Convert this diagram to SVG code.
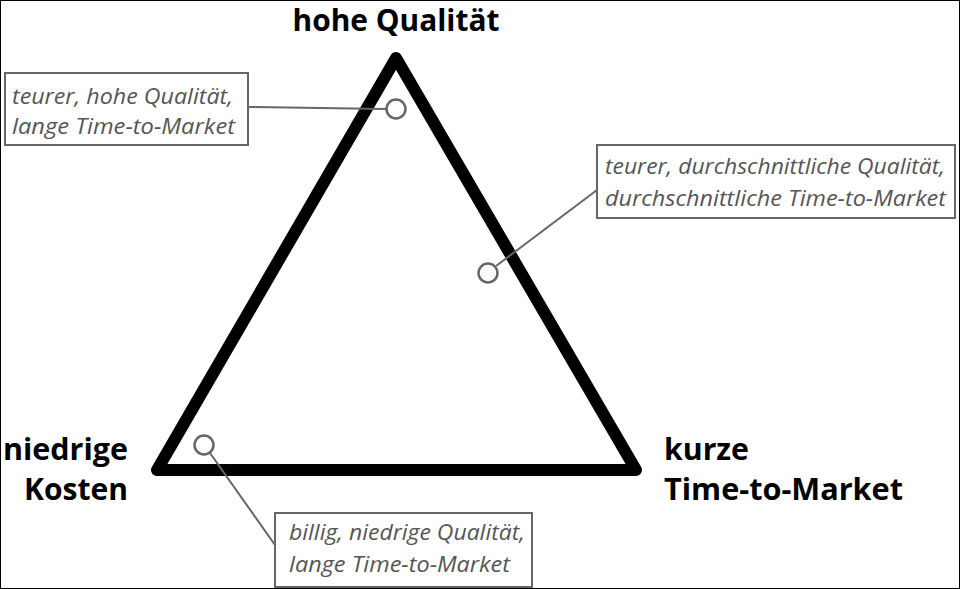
<svg xmlns="http://www.w3.org/2000/svg" width="960" height="589" viewBox="0 0 960 589">
<style>
.lbl{font-family:"Open Sans","Liberation Sans",sans-serif;font-weight:bold;font-size:30px;fill:#000}
.note{font-family:"Open Sans","Liberation Sans",sans-serif;font-style:italic;font-size:22.5px;fill:#555}
.box{fill:#fff;stroke:#666;stroke-width:2}
.pin{fill:none;stroke:#666;stroke-width:2.5}
.lead{stroke:#666;stroke-width:2;fill:none}
</style>
<rect x="0.5" y="0.5" width="959" height="588" fill="#fff" stroke="#000" stroke-width="1"/>
<g id="triangle">
<polygon points="396,58 157,470 636,470" fill="none" stroke="#000" stroke-width="12" stroke-linejoin="round"/>
</g>
<g id="connectors">
<line class="lead" x1="386" y1="109" x2="248" y2="107"/>
<line class="lead" x1="496" y1="266" x2="597" y2="190"/>
<line class="lead" x1="210" y1="453" x2="275" y2="545"/>
</g>
<g id="label-top"><text class="lbl" x="396" y="31" font-size="28" text-anchor="middle" textLength="207" lengthAdjust="spacingAndGlyphs">hohe Qualität</text></g>
<g id="label-left"><text class="lbl" x="128" y="460" text-anchor="end" textLength="125" lengthAdjust="spacingAndGlyphs">niedrige</text><text class="lbl" x="128" y="500" text-anchor="end" textLength="104" lengthAdjust="spacingAndGlyphs">Kosten</text></g>
<g id="label-right"><text class="lbl" x="664" y="460" textLength="85" lengthAdjust="spacingAndGlyphs">kurze</text><text class="lbl" x="664" y="500" textLength="239" lengthAdjust="spacingAndGlyphs">Time-to-Market</text></g>
<g id="note1"><rect class="box" x="5" y="73" width="243" height="72"/><text class="note" x="12" y="104" textLength="221" lengthAdjust="spacingAndGlyphs">teurer, hohe Qualität,</text><text class="note" x="12" y="134" textLength="223" lengthAdjust="spacingAndGlyphs">lange Time-to-Market</text></g>
<g id="note2"><rect class="box" x="597" y="145" width="358" height="73"/><text class="note" x="605" y="174" textLength="340" lengthAdjust="spacingAndGlyphs">teurer, durchschnittliche Qualität,</text><text class="note" x="605" y="206" textLength="341" lengthAdjust="spacingAndGlyphs">durchschnittliche Time-to-Market</text></g>
<g id="note3"><rect class="box" x="275" y="513" width="257" height="74"/><text class="note" x="289" y="540" textLength="236" lengthAdjust="spacingAndGlyphs">billig, niedrige Qualität,</text><text class="note" x="289" y="572" textLength="221" lengthAdjust="spacingAndGlyphs">lange Time-to-Market</text></g>
<g id="pin1"><circle class="pin" cx="396" cy="109" r="9.5"/></g>
<g id="pin2"><circle class="pin" cx="488" cy="273" r="9.5"/></g>
<g id="pin3"><circle class="pin" cx="204" cy="445" r="9.5"/></g>
</svg>
